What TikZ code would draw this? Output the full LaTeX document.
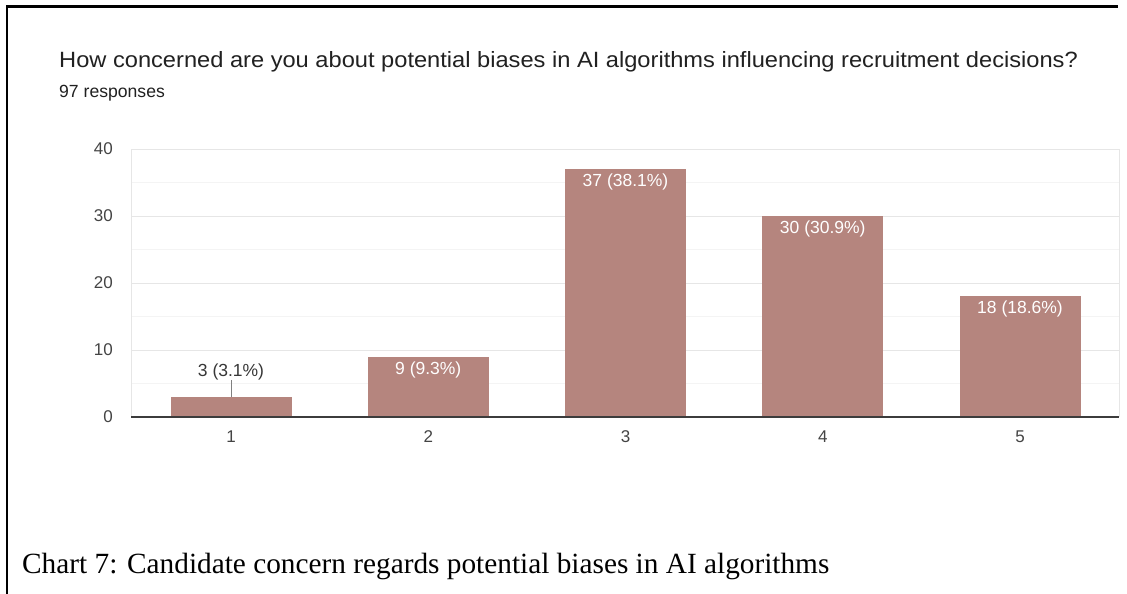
\documentclass[tikz,border=0pt]{standalone}
\usepackage{fontspec}
\setmainfont{Liberation Serif}
\newfontfamily\gsans{Liberation Sans}
\newfontfamily\gsanswide[FakeStretch=1.07]{Liberation Sans}
\definecolor{barc}{RGB}{181,133,126}
\definecolor{gridc}{RGB}{230,230,230}
\definecolor{minorc}{RGB}{244,244,244}
\definecolor{titlec}{RGB}{33,33,33}
\definecolor{tickc}{RGB}{68,68,68}
\definecolor{axisc}{RGB}{60,60,60}
\begin{document}
\begin{tikzpicture}[x=1pt,y=-1pt,
  bar/.style={fill=barc,draw=none},
  ticklab/.style={font=\gsans\fontsize{17}{17}\selectfont,text=tickc,inner sep=0pt},
  inlab/.style={font=\gsans\fontsize{17.5}{17.5}\selectfont,text=white,inner sep=0pt,anchor=center},
  outlab/.style={font=\gsans\fontsize{17.5}{17.5}\selectfont,text=titlec!90,inner sep=0pt,anchor=center}]
\useasboundingbox (0,0) rectangle (1127,594);
\fill[white] (0,0) rectangle (1127,594);
% frame
\draw[line width=2.2pt] (7,594) -- (7,6.5) -- (1118,6.5);
% title
\node[anchor=base west,inner sep=0pt,font=\gsanswide\fontsize{22.1}{22.1}\selectfont,text=titlec] (title) at (59,67) {How concerned are you about potential biases in AI algorithms influencing recruitment decisions?};
\node[anchor=base west,inner sep=0pt,font=\gsans\fontsize{17.6}{17.6}\selectfont,text=titlec] (resp) at (59,97) {97 responses};
% grid
\foreach \y in {383.5,316.5,249.5,182.5} \draw[minorc,line width=0.8pt] (131,\y) -- (1119,\y);
\foreach \y in {350,283,216,149} \draw[gridc,line width=0.9pt] (131,\y) -- (1119,\y);
\draw[gridc,line width=0.9pt] (131,149) -- (131,417);
\draw[gridc,line width=0.9pt] (1119,149) -- (1119,417);
% y ticks
\foreach \v/\y in {0/417,10/350,20/283,30/216,40/149}
  \node[ticklab,anchor=east] (yt\v) at (113,\y) {\v};
% bars
\foreach \i/\v in {1/3,2/9,3/37,4/30,5/18}{
  \pgfmathsetmacro{\cx}{231+197.25*(\i-1)}
  \pgfmathsetmacro{\top}{417-6.7*\v}
  \fill[bar] (\cx-60.5,417) rectangle (\cx+60.5,\top);
  \coordinate (b\i) at (\cx,\top);
  \node[ticklab,anchor=center] (xt\i) at (\cx,437) {\i};
}
% labels
\node[inlab] (l2) at ([yshift=-13]b2) {9 (9.3\%)};
\node[inlab] (l3) at ([yshift=-13]b3) {37 (38.1\%)};
\node[inlab] (l4) at ([yshift=-13]b4) {30 (30.9\%)};
\node[inlab] (l5) at ([yshift=-13]b5) {18 (18.6\%)};
\node[outlab] (l1) at (231,372) {3 (3.1\%)};
\draw[gray,line width=0.9pt] (l1.south) -- (l1.south |- b1);
% axis
\draw[axisc,line width=1.3pt] (131,417) -- (1119,417);
% caption
\node[anchor=base west,inner sep=0pt,font=\fontsize{29.3}{29.3}\selectfont] (cap) at (22,573) {Chart 7: Candidate concern regards potential biases in AI algorithms};
\end{tikzpicture}
\end{document}
